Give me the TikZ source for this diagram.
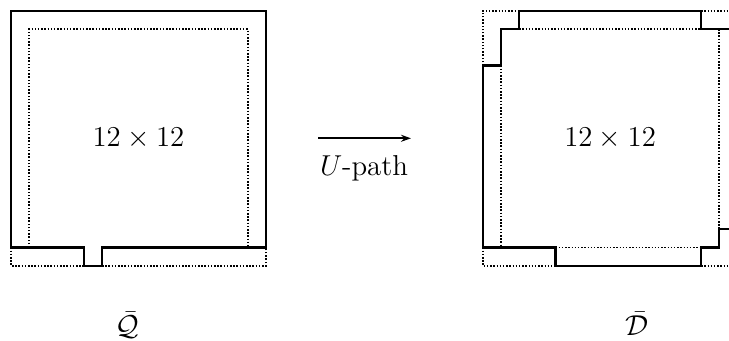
\documentclass[tikz,border=0pt]{standalone}
\usetikzlibrary{arrows.meta}
\begin{document}
\begin{tikzpicture}[x=0.5pt,y=0.5pt,
  solidln/.style={line width=1.15pt,line join=miter},
  dotln/.style={line width=0.9pt,dash pattern=on 0.75pt off 0.85pt},
  lbl/.style={font=\fontsize{14.4}{17}\selectfont,inner sep=0pt}]
\useasboundingbox (0,0) rectangle (729,341);
\clip (0,0) rectangle (729,341);
% left figure
\begin{scope}[xshift=5.5pt,yshift=37.65pt,x=9.1pt,y=9.1pt]
  \draw[solidln] (14,1) -- (5,1) -- (5,0) -- (4,0) -- (4,1) -- (0,1) -- (0,14) -- (14,14) -- cycle;
  \draw[dotln] (0,1) -- (0,0) -- (4,0);
  \draw[dotln] (5,0) -- (14,0) -- (14,1);
  \draw[dotln] (1,1) -- (1,13) -- (13,13) -- (13,1);
  \node[lbl] (lt) at (7,7) {$12\times 12$};
\end{scope}
% right figure
\begin{scope}[xshift=241.35pt,yshift=37.65pt,x=9.1pt,y=9.1pt]
  \draw[solidln] (14,13) -- (12,13) -- (12,14) -- (2,14) -- (2,13) -- (1,13) -- (1,11) -- (0,11) -- (0,1) -- (4,1) -- (4,0) -- (12,0) -- (12,1) -- (13,1) -- (13,2) -- (14,2);
  \draw[dotln] (0,11) -- (0,14) -- (2,14);
  \draw[dotln] (12,14) -- (14,14);
  \draw[dotln] (2,13) -- (12,13);
  \draw[dotln] (13,13) -- (13,2);
  \draw[dotln] (1,11) -- (1,1);
  \draw[dotln] (4,1) -- (12,1);
  \draw[dotln] (0,1) -- (0,0) -- (4,0);
  \draw[dotln] (12,0) -- (14,0);
  \node[lbl] (rt) at (7,7) {$12\times 12$};
\end{scope}
% arrow
\coordinate (as) at (318,202.7);
\coordinate (ae) at (411,202.7);
\draw[line width=1pt,-{Stealth[length=5pt,width=3.5pt]}] (as) -- (ae);
\node[lbl,anchor=base] (up) at (364,165.5) {$U$-path};
% labels
\node[lbl,anchor=base] (q) at (127.5,5) {$\bar{\mathcal{Q}}$};
\node[lbl,anchor=base] (d) at (637.5,5) {$\bar{\mathcal{D}}$};
\end{tikzpicture}
\end{document}
